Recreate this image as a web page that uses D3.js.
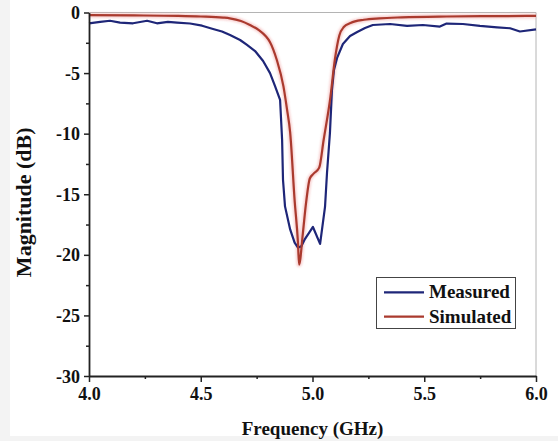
<!DOCTYPE html>
<html>
<head>
<meta charset="utf-8">
<script src="https://cdn.jsdelivr.net/npm/d3@7"></script>
<style>
  html, body { margin: 0; padding: 0; background: #f3f3f3; }
  svg { display: block; }
  text { font-family: "Liberation Serif", "Times New Roman", serif; font-weight: bold; fill: #111; }
</style>
</head>
<body>
<svg id="chart" width="558" height="441"></svg>
<script>
// Frequency sweep (GHz) and magnitude (dB) of the measured response
const measuredFreq = [4.0, 4.05, 4.094, 4.139, 4.197, 4.26, 4.304, 4.353, 4.394, 4.452, 4.506, 4.555, 4.595, 4.631, 4.676, 4.707, 4.743, 4.779, 4.81, 4.832, 4.855, 4.864, 4.868, 4.877, 4.9, 4.92, 4.935, 4.95, 4.966, 5.002, 5.034, 5.056, 5.065, 5.078, 5.087, 5.096, 5.11, 5.136, 5.168, 5.2, 5.235, 5.27, 5.347, 5.423, 5.494, 5.57, 5.6, 5.673, 5.749, 5.826, 5.884, 5.928, 6.0];
const measuredDb = [-0.89, -0.78, -0.68, -0.83, -0.89, -0.68, -0.89, -0.78, -0.84, -0.91, -1.09, -1.36, -1.57, -1.86, -2.27, -2.68, -3.18, -4.0, -5.0, -6.06, -7.22, -10.5, -13.8, -16.0, -17.9, -19.0, -19.4, -19.3, -18.7, -17.7, -19.1, -16.05, -13.2, -9.94, -6.4, -4.74, -3.75, -2.6, -1.94, -1.61, -1.28, -1.03, -0.95, -1.11, -1.03, -1.16, -0.91, -0.95, -1.11, -1.22, -1.3, -1.57, -1.4];

// Frequency sweep (GHz) and magnitude (dB) of the simulated response
const simulatedFreq = [4.0, 4.2, 4.4, 4.5, 4.6, 4.63, 4.68, 4.72, 4.76, 4.79, 4.81, 4.84, 4.87, 4.886, 4.9, 4.92, 4.935, 4.94, 4.957, 4.97, 4.988, 5.005, 5.03, 5.05, 5.08, 5.1, 5.12, 5.14, 5.17, 5.23, 5.3, 5.4, 5.6, 5.8, 6.0];
const simulatedDb = [-0.22, -0.24, -0.28, -0.33, -0.42, -0.48, -0.7, -1.03, -1.45, -1.94, -2.45, -3.9, -6.1, -8.0, -9.9, -15.5, -19.0, -20.8, -18.2, -15.9, -13.7, -13.3, -12.8, -10.5, -7.0, -3.9, -1.9, -1.2, -0.87, -0.6, -0.48, -0.4, -0.33, -0.3, -0.28];

// Axis ticks
const xMajorTicks = [4.0, 4.5, 5.0, 5.5, 6.0];
const xMinorTicks = [4.25, 4.75, 5.25, 5.75];
const yMajorTicks = [0, -5, -10, -15, -20, -25, -30];
const yMinorTicks = [-2.5, -7.5, -12.5, -17.5, -22.5, -27.5];

const seriesNames = ["Measured", "Simulated"];
const seriesColors = ["#1e2678", "#aa3a2e"];

const svg = d3.select("#chart");
const W = 558, H = 441;
const plot = { left: 89, right: 536, top: 12.5, bottom: 376 };

// page background
svg.append("rect").attr("x", 10).attr("y", 0).attr("width", W - 10).attr("height", 436).attr("fill", "#ffffff");

const x = d3.scaleLinear().domain([4.0, 6.0]).range([plot.left, plot.right]);
const y = d3.scaleLinear().domain([-30, 0]).range([plot.bottom, plot.top]);

// top and right frame lines
svg.append("line").attr("x1", plot.left).attr("x2", plot.right).attr("y1", plot.top).attr("y2", plot.top)
  .attr("stroke", "#b4b4b4").attr("stroke-width", 1);
svg.append("line").attr("x1", plot.right).attr("x2", plot.right).attr("y1", plot.top).attr("y2", plot.bottom)
  .attr("stroke", "#b4b4b4").attr("stroke-width", 1);

// soft glow for the simulated curve
const defs = svg.append("defs");
const glow = defs.append("filter").attr("id", "glow").attr("x", "-10%").attr("y", "-10%").attr("width", "120%").attr("height", "120%");
glow.append("feGaussianBlur").attr("stdDeviation", 1.2);

const measured = measuredFreq.map((f, i) => ({ f, v: measuredDb[i] }));
const simulated = simulatedFreq.map((f, i) => ({ f, v: simulatedDb[i] }));

const lineLin = d3.line().x(d => x(d.f)).y(d => y(d.v));
const lineSmooth = d3.line().x(d => x(d.f)).y(d => y(d.v)).curve(d3.curveMonotoneX);

svg.append("path").datum(simulated).attr("d", lineSmooth)
  .attr("fill", "none").attr("stroke", "#f2a9a9").attr("stroke-width", 5).attr("opacity", 0.55)
  .attr("filter", "url(#glow)");

svg.append("path").datum(measured).attr("d", lineLin)
  .attr("fill", "none").attr("stroke", seriesColors[0]).attr("stroke-width", 2.2)
  .attr("stroke-linejoin", "round");

svg.append("path").datum(simulated).attr("d", lineSmooth)
  .attr("fill", "none").attr("stroke", seriesColors[1]).attr("stroke-width", 2.2)
  .attr("stroke-linejoin", "round");

// bottom axis
const xAxis = d3.axisBottom(x).tickValues(xMajorTicks).tickFormat(d3.format(".1f")).tickSize(6).tickSizeOuter(0);
const gx = svg.append("g").attr("transform", `translate(0,${plot.bottom})`).call(xAxis);
gx.selectAll(".tick text").attr("dy", 0).attr("y", 24).style("font-size", "18px");
svg.append("g").attr("transform", `translate(0,${plot.bottom})`)
  .call(d3.axisBottom(x).tickValues(xMinorTicks).tickFormat("").tickSize(3).tickSizeOuter(0))
  .select(".domain").remove();

// left axis
const yAxis = d3.axisLeft(y).tickValues(yMajorTicks).tickFormat(d => d3.format("d")(d).replace("−", "-")).tickSize(5).tickSizeOuter(0);
const gy = svg.append("g").attr("transform", `translate(${plot.left},0)`).call(yAxis);
gy.selectAll(".tick text").attr("x", -9).attr("dy", "0.34em").style("font-size", "18px");
svg.append("g").attr("transform", `translate(${plot.left},0)`)
  .call(d3.axisLeft(y).tickValues(yMinorTicks).tickFormat("").tickSize(3).tickSizeOuter(0))
  .select(".domain").remove();

svg.selectAll(".domain").attr("stroke", "#222").attr("stroke-width", 1.8);
svg.selectAll(".tick line").attr("stroke", "#222").attr("stroke-width", 1.5);
svg.selectAll(".tick text").attr("fill", "#111").style("font-family", "'Liberation Serif', 'Times New Roman', serif").style("font-weight", "bold");

// axis titles
svg.append("text").attr("x", (plot.left + plot.right) / 2).attr("y", 435)
  .attr("text-anchor", "middle").style("font-size", "19px").text("Frequency (GHz)");
svg.append("text").attr("transform", `translate(31,${(plot.top + plot.bottom) / 2 + 8}) rotate(-90)`)
  .attr("text-anchor", "middle").style("font-size", "22px").text("Magnitude (dB)");

// legend
const lg = svg.append("g");
lg.append("rect").attr("x", 376.5).attr("y", 277.5).attr("width", 139).attr("height", 51)
  .attr("fill", "#ffffff").attr("stroke", "#444").attr("stroke-width", 1);
seriesNames.forEach((name, i) => {
  const yy = 292.3 + i * 24.4;
  lg.append("line").attr("x1", 384).attr("x2", 424).attr("y1", yy).attr("y2", yy)
    .attr("stroke", seriesColors[i]).attr("stroke-width", 2.2);
  lg.append("text").attr("x", 429).attr("y", yy + 6).style("font-size", "19px").text(name);
});
</script>
</body>
</html>
